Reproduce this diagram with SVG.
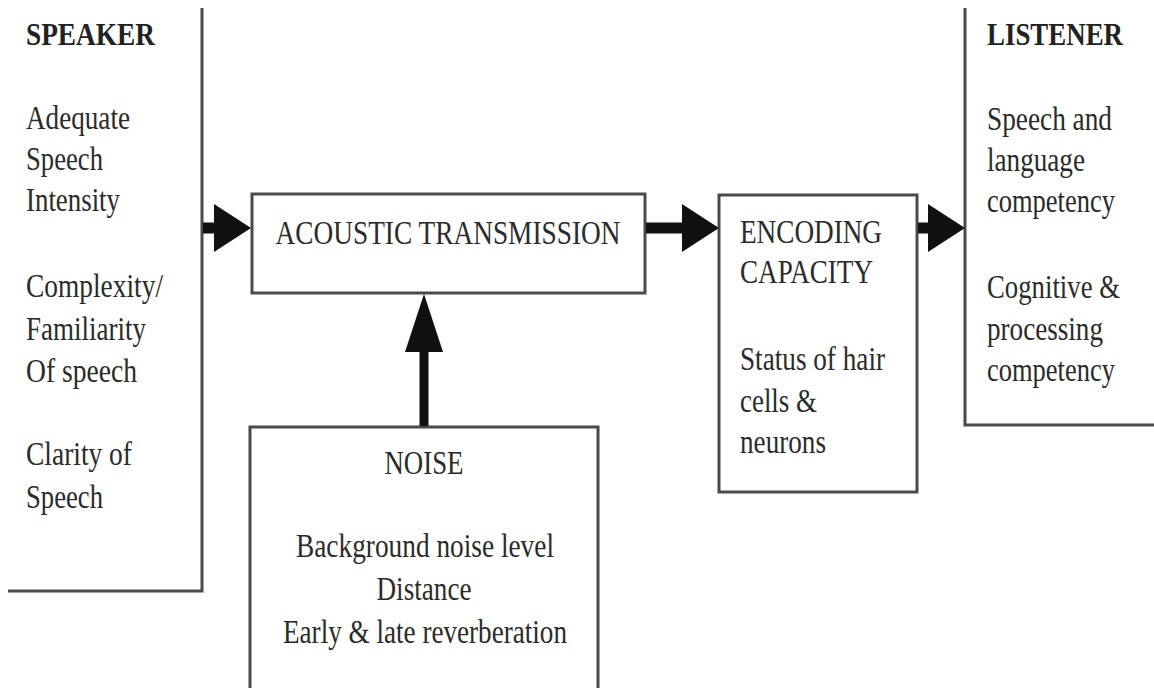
<svg xmlns="http://www.w3.org/2000/svg" width="1154" height="688" viewBox="0 0 1154 688">
<style>
.box{fill:#fff;stroke:#4a4a4a;stroke-width:3}
.edge{fill:none;stroke:#4a4a4a;stroke-width:3}
.t{font-family:"Liberation Serif","Times New Roman",serif;font-size:33px;fill:#2b2b2b}
.h{font-family:"Liberation Serif","Times New Roman",serif;font-size:31px;font-weight:bold;fill:#222}
.c{text-anchor:middle}
.conn{stroke:#111;fill:none}
</style>
<defs>
<marker id="ah" markerUnits="userSpaceOnUse" markerWidth="38" markerHeight="50" refX="0" refY="24" orient="auto" overflow="visible">
<path d="M0,0 L37,24 L0,48 z" fill="#111"/>
</marker>
<marker id="ahv" markerUnits="userSpaceOnUse" markerWidth="60" markerHeight="40" refX="0" refY="19" orient="auto" overflow="visible">
<path d="M0,0 L58,19 L0,38 z" fill="#111"/>
</marker>
</defs>
<rect width="1154" height="688" fill="#fff"/>

<g id="speaker">
<path class="edge" d="M202 8 V591 H8"/>
<text class="h" x="26" y="45" textLength="129" lengthAdjust="spacingAndGlyphs">SPEAKER</text>
<text class="t" x="26" y="129" textLength="104" lengthAdjust="spacingAndGlyphs">Adequate</text>
<text class="t" x="26" y="170" textLength="77" lengthAdjust="spacingAndGlyphs">Speech</text>
<text class="t" x="26" y="211" textLength="94" lengthAdjust="spacingAndGlyphs">Intensity</text>
<text class="t" x="26" y="297" textLength="137" lengthAdjust="spacingAndGlyphs">Complexity/</text>
<text class="t" x="26" y="340" textLength="120" lengthAdjust="spacingAndGlyphs">Familiarity</text>
<text class="t" x="26" y="382" textLength="111" lengthAdjust="spacingAndGlyphs">Of speech</text>
<text class="t" x="26" y="465" textLength="106" lengthAdjust="spacingAndGlyphs">Clarity of</text>
<text class="t" x="26" y="508" textLength="77" lengthAdjust="spacingAndGlyphs">Speech</text>
</g>

<g id="acoustic">
<rect class="box" x="252" y="194" width="393" height="99"/>
<text class="t c" x="448" y="244" textLength="345" lengthAdjust="spacingAndGlyphs">ACOUSTIC TRANSMISSION</text>
</g>

<g id="encoding">
<rect class="box" x="719" y="195" width="198" height="297"/>
<text class="t" x="740" y="243" textLength="142" lengthAdjust="spacingAndGlyphs">ENCODING</text>
<text class="t" x="740" y="283" textLength="133" lengthAdjust="spacingAndGlyphs">CAPACITY</text>
<text class="t" x="740" y="370" textLength="145" lengthAdjust="spacingAndGlyphs">Status of hair</text>
<text class="t" x="740" y="412" textLength="77" lengthAdjust="spacingAndGlyphs">cells &amp;</text>
<text class="t" x="740" y="453" textLength="86" lengthAdjust="spacingAndGlyphs">neurons</text>
</g>

<g id="listener">
<path class="edge" d="M965 8 V425 H1154"/>
<text class="h" x="987" y="45" textLength="136" lengthAdjust="spacingAndGlyphs">LISTENER</text>
<text class="t" x="987" y="130" textLength="125" lengthAdjust="spacingAndGlyphs">Speech and</text>
<text class="t" x="987" y="171" textLength="98" lengthAdjust="spacingAndGlyphs">language</text>
<text class="t" x="987" y="212" textLength="128" lengthAdjust="spacingAndGlyphs">competency</text>
<text class="t" x="987" y="298" textLength="133" lengthAdjust="spacingAndGlyphs">Cognitive &amp;</text>
<text class="t" x="987" y="340" textLength="116" lengthAdjust="spacingAndGlyphs">processing</text>
<text class="t" x="987" y="381" textLength="128" lengthAdjust="spacingAndGlyphs">competency</text>
</g>

<g id="noise">
<path class="box" d="M250 700 V427 H598 V700"/>
<text class="t c" x="424" y="474" textLength="79" lengthAdjust="spacingAndGlyphs">NOISE</text>
<text class="t c" x="425" y="557" textLength="258" lengthAdjust="spacingAndGlyphs">Background noise level</text>
<text class="t c" x="424" y="600" textLength="95" lengthAdjust="spacingAndGlyphs">Distance</text>
<text class="t c" x="425" y="643" textLength="284" lengthAdjust="spacingAndGlyphs">Early &amp; late reverberation</text>
</g>

<g id="connectors">
<line class="conn" x1="203" y1="228" x2="214" y2="228" stroke-width="11" marker-end="url(#ah)"/>
<line class="conn" x1="646" y1="228" x2="682" y2="228" stroke-width="11" marker-end="url(#ah)"/>
<line class="conn" x1="918" y1="228" x2="928" y2="228" stroke-width="11" marker-end="url(#ah)"/>
<line class="conn" x1="424" y1="426" x2="424" y2="352" stroke-width="9" marker-end="url(#ahv)"/>
</g>
</svg>
